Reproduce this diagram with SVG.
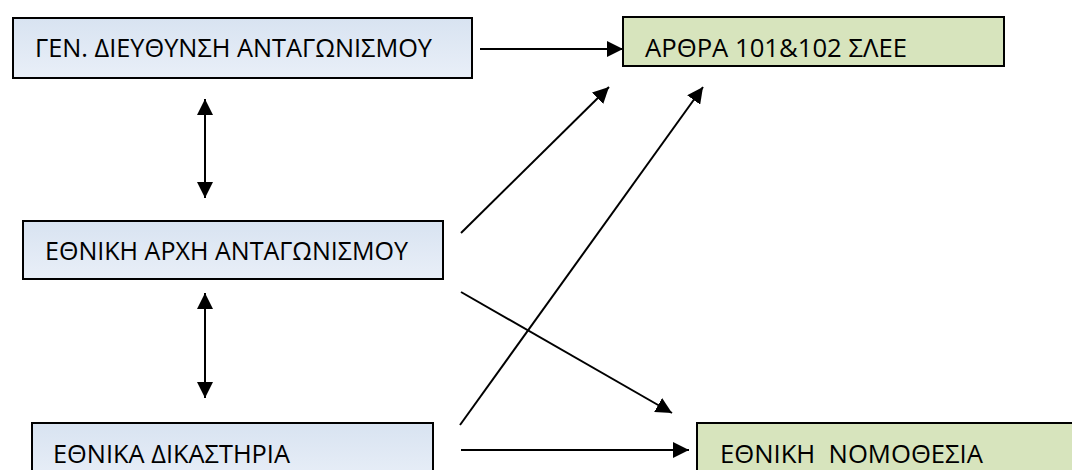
<svg xmlns="http://www.w3.org/2000/svg" width="1072" height="470" viewBox="0 0 1072 470">
<defs>
<linearGradient id="blueFill" x1="0" y1="0" x2="0" y2="1">
<stop offset="0" stop-color="#d8e3f1"/>
<stop offset="1" stop-color="#e9eff8"/>
</linearGradient>
<marker id="arrow" viewBox="0 0 16 16" refX="16" refY="8" markerWidth="16" markerHeight="16" markerUnits="userSpaceOnUse" orient="auto-start-reverse">
<path d="M0,0 L16,8 L0,16 z" fill="#000"/>
</marker>
<style>
.blue{fill:url(#blueFill);stroke:#000;stroke-width:2}
.green{fill:#d7e4bd;stroke:#000;stroke-width:2}
.lbl{font-family:"Open Sans","Noto Sans","DejaVu Sans",sans-serif;font-size:25px;fill:#000;white-space:pre}
.conn{stroke:#000;stroke-width:2;fill:none}
</style>
</defs>
<rect width="1072" height="470" fill="#fff"/>
<g id="node-gen-dieuthynsi">
<rect class="blue" x="13" y="18" width="459" height="60"/>
<text class="lbl" x="35" y="57" textLength="397" lengthAdjust="spacingAndGlyphs">ΓΕΝ. ΔΙΕΥΘΥΝΣΗ ΑΝΤΑΓΩΝΙΣΜΟΥ</text>
</g>
<g id="node-arthra">
<rect class="green" x="623" y="17" width="381" height="49"/>
<text class="lbl" x="645" y="57" textLength="262" lengthAdjust="spacingAndGlyphs">ΑΡΘΡΑ 101&amp;102 ΣΛΕΕ</text>
</g>
<g id="node-ethniki-archi">
<rect class="blue" x="23" y="221" width="420" height="58"/>
<text class="lbl" x="45" y="260" textLength="363" lengthAdjust="spacingAndGlyphs">ΕΘΝΙΚΗ ΑΡΧΗ ΑΝΤΑΓΩΝΙΣΜΟΥ</text>
</g>
<g id="node-dikastiria">
<rect class="blue" x="32" y="423" width="401" height="60"/>
<text class="lbl" x="53" y="463" textLength="237" lengthAdjust="spacingAndGlyphs">ΕΘΝΙΚΑ ΔΙΚΑΣΤΗΡΙΑ</text>
</g>
<g id="node-nomothesia">
<rect class="green" x="697" y="423" width="390" height="60"/>
<text class="lbl" x="720" y="463" textLength="263" lengthAdjust="spacingAndGlyphs" xml:space="preserve">ΕΘΝΙΚΗ  ΝΟΜΟΘΕΣΙΑ</text>
</g>
<g id="connectors">
<line class="conn" x1="480" y1="49" x2="623" y2="49" marker-end="url(#arrow)"/>
<line class="conn" x1="205" y1="99" x2="205" y2="198" marker-start="url(#arrow)" marker-end="url(#arrow)"/>
<line class="conn" x1="205" y1="293" x2="205" y2="398" marker-start="url(#arrow)" marker-end="url(#arrow)"/>
<line class="conn" x1="461" y1="233" x2="609" y2="87" marker-end="url(#arrow)"/>
<line class="conn" x1="460" y1="425" x2="703" y2="87" marker-end="url(#arrow)"/>
<line class="conn" x1="461" y1="292" x2="672" y2="413" marker-end="url(#arrow)"/>
<line class="conn" x1="461" y1="450" x2="689" y2="450" marker-end="url(#arrow)"/>
</g>
</svg>
